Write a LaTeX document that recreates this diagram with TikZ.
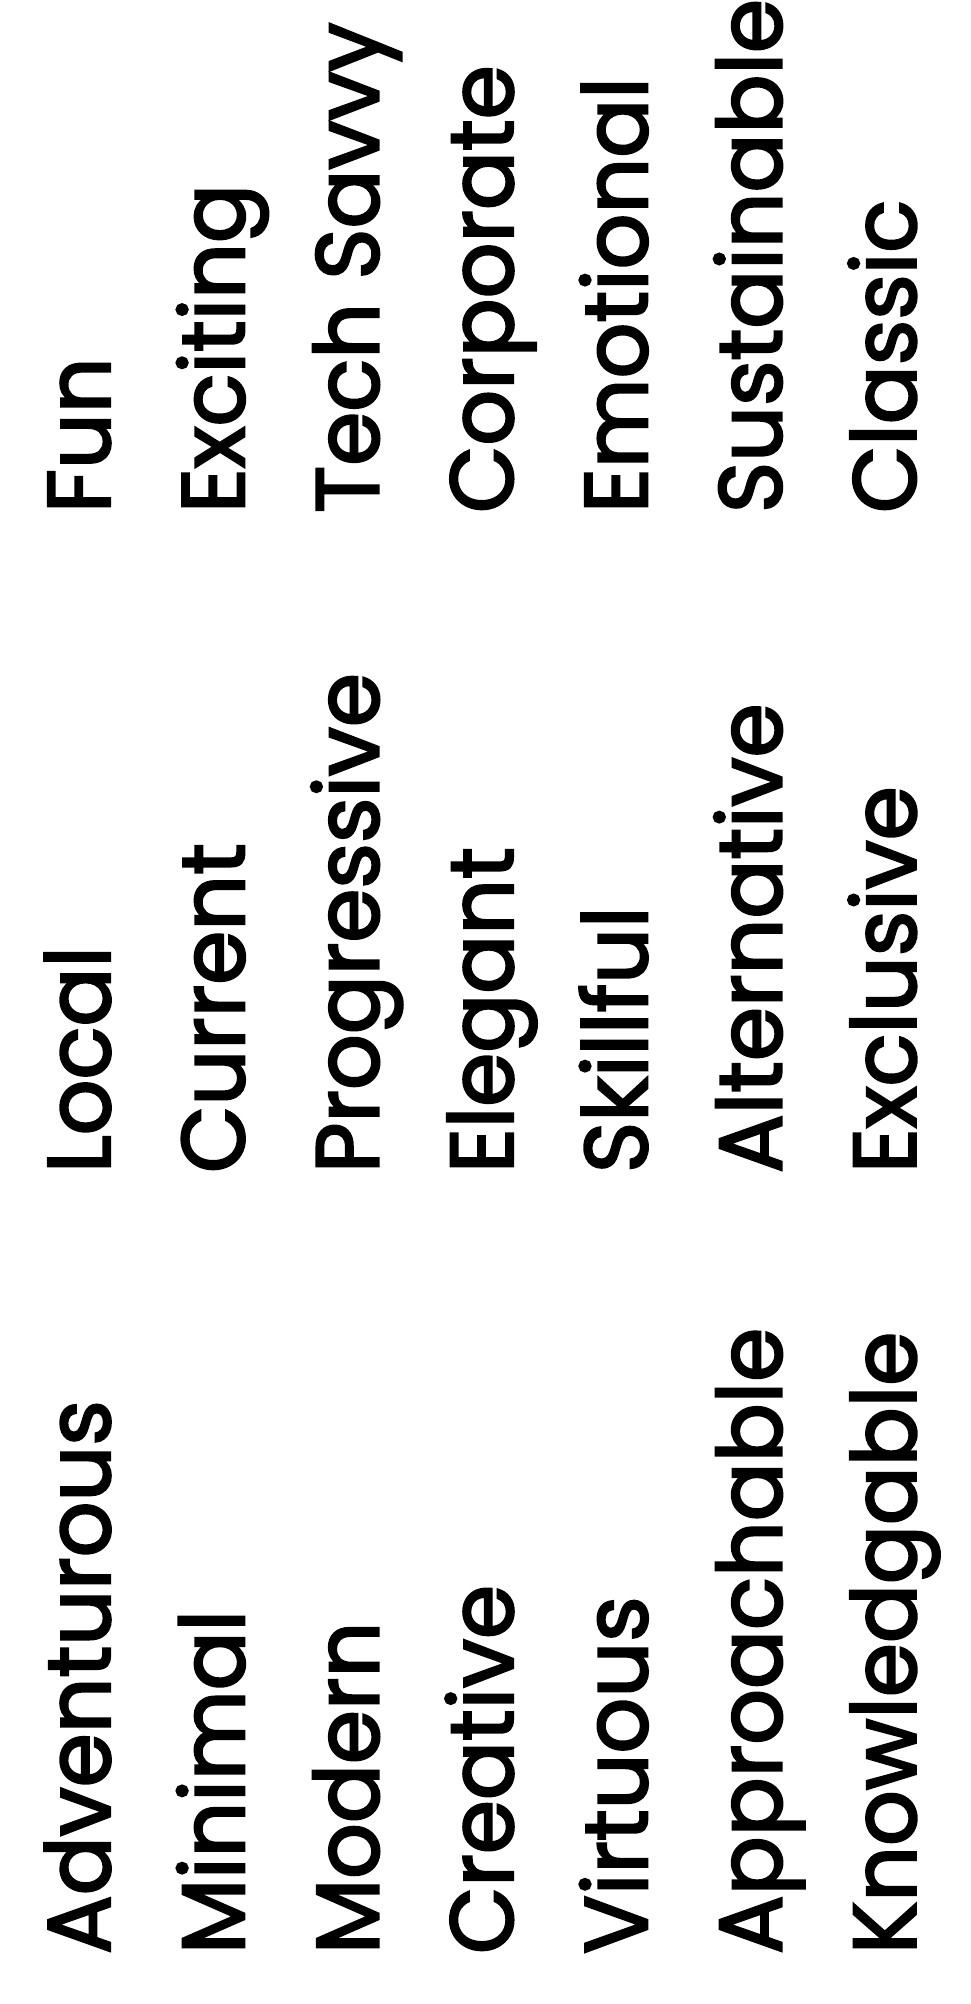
\documentclass[tikz,border=0pt]{standalone}
\usepackage{fontspec}
\setmainfont{Poppins}[FakeBold=2.5,FakeStretch=0.98]
\begin{document}
\begin{tikzpicture}[x=1pt,y=1pt,
  word/.style={rotate=90,anchor=base west,inner sep=0pt,outer sep=0pt,
    font=\fontsize{89}{100}\selectfont,text=black}]
\fill[white] (0,0) rectangle (970,2004);
\useasboundingbox (0,0) rectangle (970,2004);
% group 1
\foreach \t [count=\i] in {Adventurous,Minimal,Modern,Creative,Virtuous,Approachable,Knowledgable}
  \node[word] (a\i) at ({110+134.3*(\i-1)},50) {\t};
% group 2
\foreach \t [count=\i] in {Local,Current,Progressive,Elegant,Skillful,Alternative,Exclusive}
  \node[word] (b\i) at ({110+134.3*(\i-1)},831) {\t};
% group 3
\foreach \t [count=\i] in {Fun,Exciting,Tech Savvy,Corporate,Emotional,Sustainable,Classic}
  \node[word] (c\i) at ({110+134.3*(\i-1)},1491) {\t};
\end{tikzpicture}
\end{document}
